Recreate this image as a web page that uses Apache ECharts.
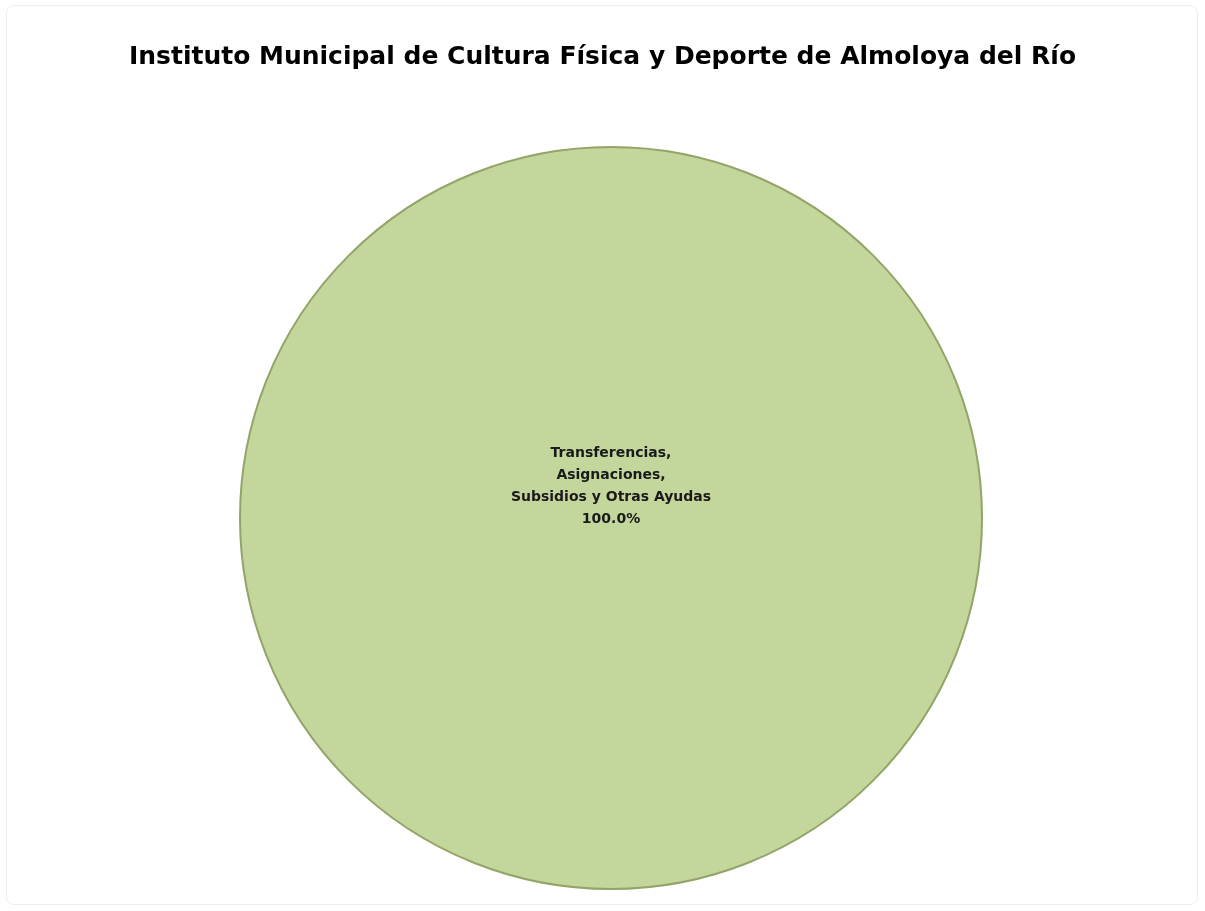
<!DOCTYPE html>
<html><head><meta charset="utf-8">
<script src="https://cdn.jsdelivr.net/npm/echarts@6/dist/echarts.min.js"></script>
<style>html,body{margin:0;padding:0;background:#fff;}#c{width:1205px;height:911px;}
#frame{position:absolute;left:6px;top:5px;width:1192px;height:900px;border:1px solid #ececec;border-radius:8px;box-sizing:border-box;pointer-events:none;}</style>
</head><body><div id="c"></div><div id="frame"></div>
<script>
const titleText = 'Instituto Municipal de Cultura Física y Deporte de Almoloya del Río';
const categories = ['Transferencias,\nAsignaciones,\nSubsidios y Otras Ayudas'];
const values = [100.0];
const chart = echarts.init(document.getElementById('c'));
chart.setOption({
  backgroundColor: '#ffffff',
  title: {
    text: titleText, left: 'center', top: 40,
    textStyle: { fontFamily: 'DejaVu Sans, sans-serif', fontWeight: 'bold', fontSize: 25, color: '#000' }
  },
  series: [{
    type: 'pie',
    center: [611, 518],
    radius: 371,
    startAngle: 90,
    animation: false,
    silent: true,
    data: categories.map((c, i) => ({ name: c, value: values[i] })),
    itemStyle: { color: '#c3d69b', borderColor: '#93a468', borderWidth: 2 },
    label: {
      position: 'center', offset: [0, -32],
      formatter: p => p.name + '\n' + p.percent.toFixed(1) + '%',
      fontFamily: 'DejaVu Sans, sans-serif', fontWeight: 'bold', fontSize: 14,
      lineHeight: 22, color: '#1a1a1a', align: 'center'
    },
    labelLine: { show: false }
  }]
});
</script></body></html>
